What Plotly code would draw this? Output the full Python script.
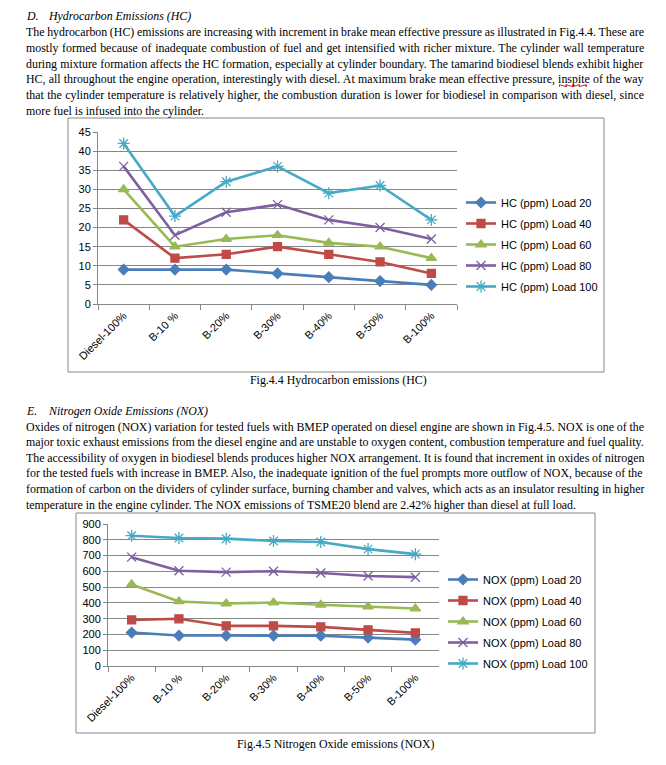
import plotly.graph_objects as go

# ---------------- data ----------------
categories = ["Diesel-100%", "B-10 %", "B-20%", "B-30%", "B-40%", "B-50%", "B-100%"]

hc_names = ["HC (ppm) Load 20", "HC (ppm) Load 40", "HC (ppm) Load 60",
            "HC (ppm) Load 80", "HC (ppm) Load 100"]
hc_load20 = [9, 9, 9, 8, 7, 6, 5]
hc_load40 = [22, 12, 13, 15, 13, 11, 8]
hc_load60 = [30, 15, 17, 18, 16, 15, 12]
hc_load80 = [36, 18, 24, 26, 22, 20, 17]
hc_load100 = [42, 23, 32, 36, 29, 31, 22]

nox_names = ["NOX (ppm) Load 20", "NOX (ppm) Load 40", "NOX (ppm) Load 60",
             "NOX (ppm) Load 80", "NOX (ppm) Load 100"]
nox_load20 = [212, 193, 193, 193, 192, 180, 167]
nox_load40 = [292, 299, 254, 254, 248, 229, 210]
nox_load60 = [517, 409, 396, 402, 388, 377, 364]
nox_load80 = [690, 604, 595, 601, 589, 570, 563]
nox_load100 = [826, 811, 807, 792, 786, 741, 709]

hc_ticks = [0, 5, 10, 15, 20, 25, 30, 35, 40, 45]
nox_ticks = [0, 100, 200, 300, 400, 500, 600, 700, 800, 900]

hc_heading = ["D.", "Hydrocarbon Emissions (HC)"]
hc_text = [
    "The hydrocarbon (HC) emissions are increasing with increment in brake mean effective pressure as illustrated in Fig.4.4. These are",
    "mostly formed because of inadequate combustion of fuel and get intensified with richer mixture. The cylinder wall temperature",
    "during mixture formation affects the HC formation, especially at cylinder boundary. The tamarind biodiesel blends exhibit higher",
    "HC, all throughout the engine operation, interestingly with diesel. At maximum brake mean effective pressure, inspite of the way",
    "that the cylinder temperature is relatively higher, the combustion duration is lower for biodiesel in comparison with diesel, since",
    "more fuel is infused into the cylinder.",
]
hc_caption = "Fig.4.4 Hydrocarbon emissions (HC)"

nox_heading = ["E.", "Nitrogen Oxide Emissions (NOX)"]
nox_text = [
    "Oxides of nitrogen (NOX) variation for tested fuels with BMEP operated on diesel engine are shown in Fig.4.5. NOX is one of the",
    "major toxic exhaust emissions from the diesel engine and are unstable to oxygen content, combustion temperature and fuel quality.",
    "The accessibility of oxygen in biodiesel blends produces higher NOX arrangement. It is found that increment in oxides of nitrogen",
    "for the tested fuels with increase in BMEP. Also, the inadequate ignition of the fuel prompts more outflow of NOX, because of the",
    "formation of carbon on the dividers of cylinder surface, burning chamber and valves, which acts as an insulator resulting in higher",
    "temperature in the engine cylinder. The NOX emissions of TSME20 blend are 2.42% higher than diesel at full load.",
]
nox_caption = "Fig.4.5 Nitrogen Oxide emissions (NOX)"

# ---------------- styling ----------------
W, H = 666, 765
def px(x): return x / W
def py(y): return 1 - y / H

colors = ["#4A7EBB", "#BE4B48", "#98B954", "#7D60A0", "#46AAC5"]
symbols = ["diamond", "square", "triangle-up", "x-thin-open", "asterisk-open"]
msizes = [8, 8, 9, 9, 10]
GRID = "#868686"
SANS = "Liberation Sans"
SERIF = "Liberation Serif"

# Times metrics (1/1000 em) for justification
TW = {' ': 250, '!': 333, '"': 408, '%': 833, '&': 778, "'": 333, '(': 333, ')': 333,
      ',': 250, '-': 333, '.': 250, '/': 278, ':': 278, ';': 278, '?': 444,
      'A': 722, 'B': 667, 'C': 667, 'D': 722, 'E': 611, 'F': 556, 'G': 722, 'H': 722,
      'I': 333, 'J': 389, 'K': 722, 'L': 611, 'M': 889, 'N': 722, 'O': 722, 'P': 556,
      'Q': 722, 'R': 667, 'S': 556, 'T': 611, 'U': 722, 'V': 722, 'W': 944, 'X': 722,
      'Y': 722, 'Z': 611,
      'a': 444, 'b': 500, 'c': 444, 'd': 500, 'e': 444, 'f': 333, 'g': 500, 'h': 500,
      'i': 278, 'j': 278, 'k': 500, 'l': 278, 'm': 778, 'n': 500, 'o': 500, 'p': 500,
      'q': 500, 'r': 333, 's': 389, 't': 278, 'u': 500, 'v': 500, 'w': 722, 'x': 500,
      'y': 500, 'z': 444}
for d in "0123456789":
    TW[d] = 500

RENDER_K = 1.0  # rendered / metric width ratio

def em(s):
    return sum(TW.get(c, 500) for c in s) / 1000.0 * RENDER_K

TEXT_L, TEXT_R = 25, 644
FS = 11.9

fig = go.Figure()

def add_series(names, series, xa, ya, legend):
    for i, (nm, vals) in enumerate(zip(names, series)):
        fig.add_trace(go.Scatter(
            x=categories, y=vals, name=nm, mode="lines+markers",
            xaxis=xa, yaxis=ya, legend=legend, legendgroup=legend + str(i),
            line=dict(color=colors[i], width=2.6),
            marker=dict(symbol=symbols[i], size=msizes[i], color=colors[i],
                        line=dict(color=colors[i], width=1.3)),
            hoverinfo="skip"))

add_series(hc_names, [hc_load20, hc_load40, hc_load60, hc_load80, hc_load100],
           "x", "y", "legend")
add_series(nox_names, [nox_load20, nox_load40, nox_load60, nox_load80, nox_load100],
           "x2", "y2", "legend2")

def xaxis_style(domain, anchor):
    return dict(domain=domain, anchor=anchor, type="category", range=[-0.5, 6.5],
                showline=True, linecolor=GRID, linewidth=1, ticks="outside",
                tickson="boundaries", ticklen=5, tickcolor=GRID, tickangle=-45,
                tickfont=dict(family=SANS, size=11, color="#000"), showgrid=False,
                automargin=False, fixedrange=True)

def yaxis_style(domain, anchor, rng, ticks):
    return dict(domain=domain, anchor=anchor, range=rng, tickvals=ticks,
                showline=True, linecolor=GRID, linewidth=1, ticks="outside",
                ticklen=4, tickcolor=GRID, showgrid=True, gridcolor=GRID,
                gridwidth=1, zeroline=False, tickfont=dict(family=SANS, size=11, color="#000"),
                automargin=False, fixedrange=True)

fig.update_layout(
    width=W, height=H, margin=dict(l=0, r=0, t=0, b=0),
    paper_bgcolor="white", plot_bgcolor="white",
    xaxis=xaxis_style([px(98), px(457)], "y"),
    yaxis=yaxis_style([py(304), py(132)], "x", [0, 45], hc_ticks),
    xaxis2=xaxis_style([px(108), px(439)], "y2"),
    yaxis2=yaxis_style([py(666), py(524)], "x2", [0, 900], nox_ticks),
    legend=dict(x=px(461), y=py(188), xanchor="left", yanchor="top",
                font=dict(family=SANS, size=11, color="#000"), tracegroupgap=2,
                bgcolor="rgba(0,0,0,0)", borderwidth=0, itemclick=False),
    legend2=dict(x=px(443), y=py(565), xanchor="left", yanchor="top",
                 font=dict(family=SANS, size=11, color="#000"), tracegroupgap=2,
                 bgcolor="rgba(0,0,0,0)", borderwidth=0, itemclick=False),
    showlegend=True,
)

# chart frames
fig.add_shape(type="rect", xref="paper", yref="paper", x0=px(68), x1=px(604),
              y0=py(372), y1=py(118), line=dict(color=GRID, width=1), layer="below")
fig.add_shape(type="rect", xref="paper", yref="paper", x0=px(76), x1=px(595),
              y0=py(733), y1=py(513), line=dict(color=GRID, width=1), layer="below")

def add_text(s, x, y, italic=False, size=FS, xanchor="left"):
    fig.add_annotation(text=("<i>%s</i>" % s) if italic else s, x=px(x), y=py(y),
                       xref="paper", yref="paper", xanchor=xanchor, yanchor="middle",
                       showarrow=False, borderpad=0,
                       font=dict(family=SERIF, size=size, color="#000"))

def add_paragraph(lines, y0, step):
    spacing = []
    for i, s in enumerate(lines):
        y = y0 + step * i
        if i < len(lines) - 1:
            ws = (TEXT_R - TEXT_L - em(s) * FS) / max(s.count(" "), 1)
            add_text('<span style="word-spacing:%.2fpx">%s</span>' % (ws, s), TEXT_L, y)
            spacing.append(ws)
        else:
            add_text(s, TEXT_L, y)
            spacing.append(0)
    return spacing

# HC section
add_text(hc_heading[0], 25, 16, italic=True)
add_text(hc_heading[1], 47, 16, italic=True)
hc_ws = add_paragraph(hc_text, 32, 15.8)
add_text(hc_caption, 338, 380, xanchor="center")

# red spell-check squiggle under "inspite"
line4 = hc_text[3]
prefix = line4[:line4.index("inspite")]
sx0 = TEXT_L + em(prefix) * FS + hc_ws[3] * prefix.count(" ")
sx1 = sx0 + em("inspite") * FS
sy = 32 + 15.8 * 3 + 6
pts = []
xx = sx0
k = 0
while xx <= sx1:
    pts.append("%s %.2f,%.4f" % ("M" if k == 0 else "L", px(xx), py(sy + (1.2 if k % 2 else -0.6))))
    xx += 1.8
    k += 1
fig.add_shape(type="path", xref="paper", yref="paper", path=" ".join(pts),
              line=dict(color="#E02020", width=1))

# NOX section
add_text(nox_heading[0], 25, 411, italic=True)
add_text(nox_heading[1], 47, 411, italic=True)
add_paragraph(nox_text, 426.5, 15.6)
add_text(nox_caption, 336, 744, xanchor="center")

fig.write_html("out.html", config={"displayModeBar": False},
               post_script="document.body.style.margin='0';document.body.style.overflow='hidden';")
